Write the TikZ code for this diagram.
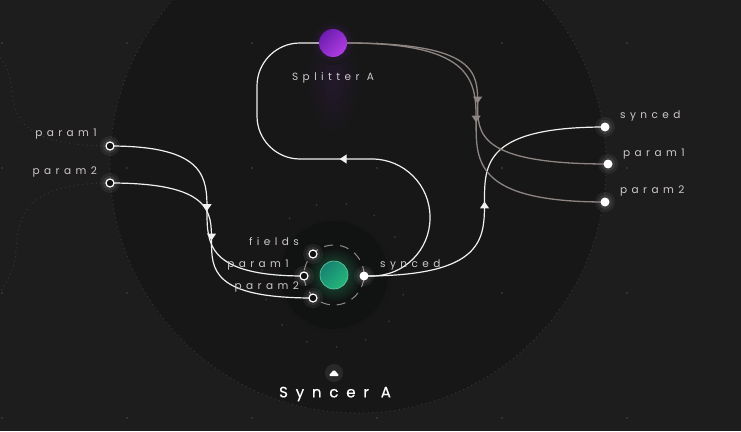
\documentclass[tikz,border=0pt]{standalone}
\usepackage{fontspec}
\setmainfont{Poppins}
\newfontfamily\portfont[LetterSpace=42]{Poppins}
\newfontfamily\titlefont[LetterSpace=52,FakeBold=0.5]{Poppins}
\usetikzlibrary{arrows.meta,decorations.markings,calc}
\pgfdeclarelayer{back}
\pgfdeclarelayer{wires}
\pgfsetlayers{back,wires,main}

\definecolor{canvas}{HTML}{1D1D1D}
\definecolor{zone}{HTML}{171717}
\definecolor{dotgray}{HTML}{3A3A3A}
\definecolor{wirewhite}{HTML}{F0F0F0}
\definecolor{wiregray}{HTML}{8E8582}
\definecolor{labelgray}{HTML}{CFC8CC}
\definecolor{halo}{HTML}{111312}
\definecolor{ringgray}{HTML}{8A8A8A}
\definecolor{synclo}{HTML}{168272}
\definecolor{synchi}{HTML}{25B77A}
\definecolor{splitlo}{HTML}{6C1DAE}
\definecolor{splithi}{HTML}{B23DE6}

\tikzset{
  port in/.style={circle, draw=white, line width=1.2pt, fill=halo, inner sep=0pt, minimum size=8pt},
  port out/.style={circle, fill=white, inner sep=0pt, minimum size=9pt},
  port label/.style={text=labelgray, font=\portfont\fontsize{10.5}{12}\selectfont, inner sep=0pt},
  wire/.style={draw=wirewhite, line width=1.2pt},
  wire back/.style={draw=wiregray, line width=1.3pt},
  flow/.style={postaction=decorate, decoration={markings,
      mark=at position 0.5 with {\arrow{Triangle[width=9pt,length=7pt]}}}},
  ghost/.style={draw=dotgray, line width=1.2pt, line cap=round, dash pattern=on 0pt off 4.5pt},
}

\begin{document}
\begin{tikzpicture}[x=1pt,y=-1pt]
    \useasboundingbox (0,0) rectangle (741,431);

    % nodes
    \node[circle, minimum size=28pt, draw=synchi!70!white, line width=0.6pt,
          top color=synclo, bottom color=synchi, shading angle=45] (sy) at (334,275) {};
    \node[circle, minimum size=28pt,
          top color=splitlo, bottom color=splithi, shading angle=45] (sp) at (333,43) {};

    % ports
    \node[port in] (lp1) at (110,146) {};
    \node[port in] (lp2) at (110,183) {};
    \node[port in] (syf) at (313,254) {};
    \node[port in] (syp1) at (304,276) {};
    \node[port in] (syp2) at (313,298) {};
    \node[port out] (sys) at (364,276) {};
    \node[port out] (rs) at (605,127) {};
    \node[port out] (rp1) at (608,164) {};
    \node[port out] (rp2) at (605,202) {};

    % labels
    \node[port label, anchor=east] at ($(lp1)+(-13,-12)$) {param1};
    \node[port label, anchor=east] at ($(lp2)+(-13,-11)$) {param2};
    \node[port label, anchor=east] at ($(syf)+(-14,-12)$) {fields};
    \node[port label, anchor=east] at ($(syp1)+(-15,-11)$) {param1};
    \node[port label, anchor=east] at ($(syp2)+(-14,-11)$) {param2};
    \node[port label, anchor=west] at ($(sys)+(16,-11)$) {synced};
    \node[port label, anchor=west] at ($(rs)+(15,-11)$) {synced};
    \node[port label, anchor=west] at ($(rp1)+(15,-10)$) {param1};
    \node[port label, anchor=west] at ($(rp2)+(15,-11)$) {param2};
    \node[port label] (sp-label) at (333,78) {Splitter A};
    \node[text=white, font=\titlefont\fontsize{15}{17}\selectfont, inner sep=0pt] (sy-label) at (335,394) {Syncer A};

    \begin{pgfonlayer}{back}
        \begin{scope}
            \clip (0,0) rectangle (741,431);
            \fill[canvas] (0,0) rectangle (741,431);
            \fill[zone] (358,165) circle (248pt);
            \draw[ghost] (358,165) circle (248pt);
            \foreach \gx in {2,127,...,627}
                \foreach \gy in {43,168,293,418}
                    \fill[dotgray] (\gx,\gy) circle (1.2pt);
            % dotted wires leaving the picture
            \draw[ghost] (lp1.center) .. controls (30,146) and (14,122) .. (12,92)
                .. controls (11,76) and (6,65) .. (0,57);
            \draw[ghost] (lp2.center) .. controls (30,183) and (18,212) .. (16,250)
                .. controls (15,270) and (7,282) .. (0,292);
            % glow under splitter
            \shade[inner color=splitlo!14!zone, outer color=zone] (333,80) ellipse (26pt and 55pt);
            \shade[inner color=splitlo!40!zone, outer color=zone] (sp) circle (22pt);
            % halo of syncer
            \shade[inner color=halo, outer color=zone] (sy) circle (66pt);
            \fill[halo] (sy) circle (54pt);
            \shade[inner color=synchi!45!halo, outer color=halo] (sy) circle (27pt);
            \foreach \a in {0,24,...,336}
                \fill[white, opacity=0.14] ($(sy)+(\a+8:72pt)$) circle (1pt);
            \draw[ringgray, line width=1pt, dash pattern=on 9pt off 7pt] (sy) circle (30pt);
            % glow round ports
            \foreach \p in {lp1,lp2,syf,syp1,syp2,sys,rs,rp1,rp2} {
                \fill[white, opacity=0.06] (\p) circle (10pt);
                \fill[white, opacity=0.08] (\p) circle (7pt);
            }
            % marker above the title
            \fill[white, opacity=0.08] (334,373) circle (9pt);
            \fill[white, rounded corners=1.5pt] (328.5,376) -- (334,369.5) -- (339.5,376) -- cycle;
        \end{scope}
    \end{pgfonlayer}

    % wires
    \begin{pgfonlayer}{wires}
        \draw[wire, flow] (lp1.center) .. controls +(194,0) and +(-194,0) .. (syp1.center);
        \draw[wire, flow] (lp2.center) .. controls +(203,0) and +(-203,0) .. (syp2.center);
        \draw[wire, flow] (sys.center) .. controls +(241,0) and +(-241,0) .. (rs.center);
        \draw[wire back, flow] (sp.east) .. controls +(261,0) and +(-261,0) .. (rp1.center);
        \draw[wire back, flow] (sp.east) .. controls +(258,0) and +(-258,0) .. (rp2.center);
        \draw[wire, flow] (sys.center) [rounded corners=58pt] -- (430,276) -- (430,159)
            [rounded corners=43pt] -- (257,159) -- (257,43) -- (sp.west);
    \end{pgfonlayer}
\end{tikzpicture}
\end{document}
